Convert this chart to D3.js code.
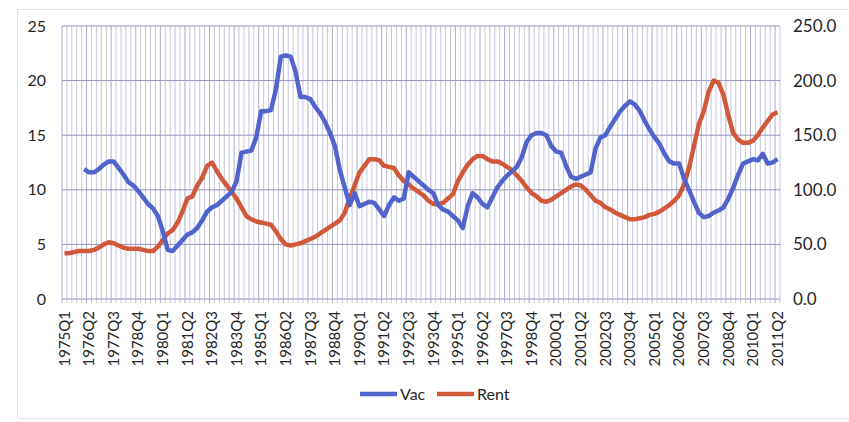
<!DOCTYPE html>
<html>
<head>
<meta charset="utf-8">
<script src="https://cdn.jsdelivr.net/npm/d3@7"></script>
<style>
  body { margin: 0; background: #fff; }
  text { font-family: Lato, "Open Sans", sans-serif; fill: #262626; }
</style>
</head>
<body>
<div id="chart"></div>
<script>
// quarters 1975Q1 .. 2011Q2
const startYear = 1975, nQuarters = 146;
const quarters = [];
for (let i = 0; i < nQuarters; i++) {
    quarters.push((startYear + Math.floor(i / 4)) + "Q" + (i % 4 + 1));
}

const tickLabels = ["1975Q1","1976Q2","1977Q3","1978Q4","1980Q1","1981Q2","1982Q3","1983Q4",
    "1985Q1","1986Q2","1987Q3","1988Q4","1990Q1","1991Q2","1992Q3","1993Q4","1995Q1","1996Q2",
    "1997Q3","1998Q4","2000Q1","2001Q2","2002Q3","2003Q4","2005Q1","2006Q2","2007Q3","2008Q4",
    "2010Q1","2011Q2"];

const leftTicks = [0, 5, 10, 15, 20, 25];
const rightTicks = [0, 50, 100, 150, 200, 250];

// vacancy rate (left axis)
const vac = [null, null, null, null,
    11.9, 11.6, 11.6, 11.9, 12.3, 12.6, 12.6, 12.0, 11.4, 10.7, 10.4, 9.9, 9.3, 8.7, 8.3, 7.6,
    6.2, 4.5, 4.4, 4.9, 5.4, 5.9, 6.1, 6.5, 7.2, 8.0, 8.4, 8.6, 9.0, 9.4, 9.8, 10.8,
    13.4, 13.5, 13.6, 14.8, 17.2, 17.2, 17.3, 19.2, 22.2, 22.3, 22.2, 20.8, 18.5, 18.5, 18.3, 17.6,
    17.0, 16.2, 15.2, 14.0, 11.8, 10.2, 8.6, 9.7, 8.5, 8.7, 8.9, 8.8, 8.2, 7.6, 8.6, 9.3,
    9.0, 9.2, 11.6, 11.2, 10.8, 10.4, 10.0, 9.7, 8.6, 8.2, 8.0, 7.6, 7.2, 6.5, 8.5, 9.7,
    9.3, 8.7, 8.4, 9.3, 10.2, 10.8, 11.3, 11.7, 12.1, 13.0, 14.4, 15.0, 15.2, 15.2, 15.0, 14.0,
    13.5, 13.4, 12.2, 11.2, 11.0, 11.2, 11.4, 11.6, 13.8, 14.8, 15.0, 15.8, 16.5, 17.2, 17.7, 18.1,
    17.8, 17.2, 16.3, 15.5, 14.8, 14.2, 13.3, 12.6, 12.4, 12.4, 11.0, 10.0, 8.9, 7.9, 7.5, 7.6,
    7.9, 8.1, 8.4, 9.2, 10.2, 11.4, 12.4, 12.6, 12.8, 12.7, 13.3, 12.4, 12.5, 12.8];

// rent index (right axis)
const rent = [42, 42, 43, 44, 44, 44, 45, 47, 50, 52, 51, 49, 47, 46, 46, 46, 45, 44, 44, 48,
    54, 60, 63, 70, 80, 92, 94, 104, 111, 122, 125, 117, 110, 104, 98, 92, 84, 76, 73, 71,
    70, 69, 68, 62, 55, 50, 49, 50, 51, 53, 55, 57, 60, 63, 66, 69, 72, 79, 92, 104,
    116, 122, 128, 128, 127, 122, 121, 120, 113, 108, 105, 101, 98, 95, 90, 87, 87, 88, 92, 96,
    108, 116, 123, 128, 131, 131, 128, 126, 126, 124, 121, 118, 113, 108, 102, 97, 94, 90, 89, 91,
    94, 97, 100, 103, 105, 104, 100, 95, 90, 88, 84, 82, 79, 77, 75, 73, 73, 74, 75, 77,
    78, 80, 83, 86, 90, 95, 105, 120, 140, 160, 172, 190, 200, 198, 187, 168, 152, 146, 143, 143,
    145, 150, 157, 163, 169, 171];

const width = 849, height = 422;
const plotLeft = 62, plotRight = 780, plotTop = 26, plotBottom = 299;

const svg = d3.select("#chart").append("svg")
    .attr("width", width)
    .attr("height", height);

// faint chart frame
svg.append("rect")
    .attr("x", 17.5).attr("y", 9.5)
    .attr("width", 840).attr("height", 409)
    .attr("fill", "none")
    .attr("stroke", "#e2e2e2");

const x = d3.scaleBand().domain(quarters).range([plotLeft, plotRight]).paddingInner(0).paddingOuter(0);
const y = d3.scaleLinear().domain([0, 25]).range([plotBottom, plotTop]);
const y2 = d3.scaleLinear().domain([0, 250]).range([plotBottom, plotTop]);

// vertical gridlines at each category boundary
const bounds = quarters.map(q => x(q)).concat([plotRight]);
svg.selectAll("line.vgrid")
    .data(bounds)
    .enter()
    .append("line")
    .classed("vgrid", true)
    .attr("x1", d => d).attr("x2", d => d)
    .attr("y1", plotTop).attr("y2", plotBottom + 4)
    .attr("stroke", (d, i) => i % 5 === 0 ? "#acacd0" : "#c6c6e0")
    .attr("stroke-width", 1);

// horizontal gridlines
svg.selectAll("line.hgrid")
    .data(leftTicks)
    .enter()
    .append("line")
    .classed("hgrid", true)
    .attr("x1", plotLeft).attr("x2", plotRight)
    .attr("y1", d => y(d)).attr("y2", d => y(d))
    .attr("stroke", "#9494c0")
    .attr("stroke-width", 1);

// left axis labels
svg.selectAll("text.yl")
    .data(leftTicks)
    .enter()
    .append("text")
    .classed("yl", true)
    .attr("x", 46)
    .attr("y", d => y(d))
    .attr("dy", "0.35em")
    .attr("text-anchor", "end")
    .style("font-size", "16px")
    .text(d => d);

// right axis labels
svg.selectAll("text.yr")
    .data(rightTicks)
    .enter()
    .append("text")
    .classed("yr", true)
    .attr("x", 793)
    .attr("y", d => y2(d))
    .attr("dy", "0.35em")
    .style("font-size", "17px")
    .text(d => d.toFixed(1));

// category labels
svg.selectAll("text.xl")
    .data(tickLabels)
    .enter()
    .append("text")
    .classed("xl", true)
    .attr("transform", d => "translate(" + (x(d) + x.bandwidth() / 2) + "," + 311 + ") rotate(-90)")
    .attr("dy", "0.35em")
    .attr("text-anchor", "end")
    .style("font-size", "15px")
    .text(d => d);

const cx = (d, i) => x(quarters[i]) + x.bandwidth() / 2;

const vacLine = d3.line()
    .defined(d => d != null)
    .x(cx)
    .y(d => y(d));

const rentLine = d3.line()
    .x(cx)
    .y(d => y2(d));

svg.append("path")
    .datum(rent)
    .attr("d", rentLine)
    .attr("fill", "none")
    .attr("stroke", "#d2583a")
    .attr("stroke-width", 4.5)
    .attr("stroke-linejoin", "round");

svg.append("path")
    .datum(vac)
    .attr("d", vacLine)
    .attr("fill", "none")
    .attr("stroke", "#5064cc")
    .attr("stroke-width", 4.5)
    .attr("stroke-linejoin", "round");

// legend
const legend = [{name: "Vac", color: "#5064cc", x: 360}, {name: "Rent", color: "#d2583a", x: 437}];
const lg = svg.selectAll("g.legend")
    .data(legend)
    .enter()
    .append("g")
    .classed("legend", true)
    .attr("transform", d => "translate(" + d.x + ",394)");
lg.append("line")
    .attr("x1", 0).attr("x2", 37)
    .attr("y1", 0).attr("y2", 0)
    .attr("stroke", d => d.color)
    .attr("stroke-width", 4.5);
lg.append("text")
    .attr("x", 40)
    .attr("dy", "0.35em")
    .style("font-size", "16px")
    .text(d => d.name);
</script>
</body>
</html>
